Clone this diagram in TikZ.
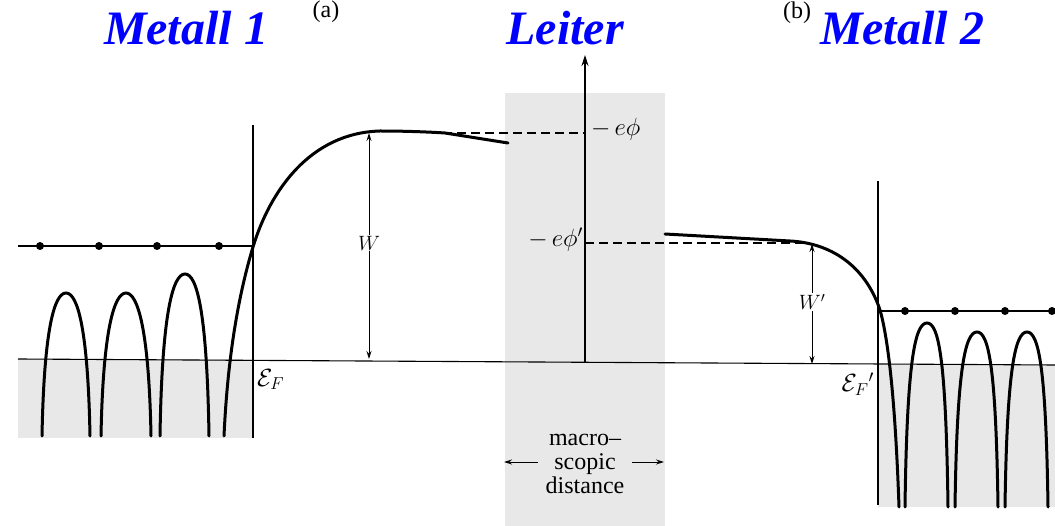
\documentclass[tikz,border=0pt]{standalone}
\usepackage{fontspec}
\setmainfont{Liberation Serif}
\usetikzlibrary{arrows.meta}
\definecolor{titleblue}{RGB}{0,0,255}
\definecolor{bandgray}{RGB}{232,232,232}
\newcommand\myarch[5]{%
  \draw[thickcurve] (#1,#5) .. controls ({#1+2},{#4+38}) and ({#3-12},#4) .. (#3,#4)
    .. controls ({#3+12},#4) and ({#2-2},{#4+38}) .. (#2,#5);}
\begin{document}
\begin{tikzpicture}[x=1pt,y=-1pt,
  thinline/.style={line width=1.1pt},
  thickcurve/.style={line width=3pt, line cap=round},
  dashline/.style={line width=1.1pt, dash pattern=on 9pt off 5pt},
  electron/.style={circle, fill=black, inner sep=0pt, minimum size=8pt},
  titletext/.style={font=\fontsize{48}{50}\selectfont\bfseries\itshape, text=titleblue, inner sep=0pt, anchor=base},
  smalltext/.style={font=\fontsize{24}{26}\selectfont, inner sep=0pt},
  lab/.style={font=\fontsize{22}{24}\selectfont, inner sep=1pt},
  biglab/.style={font=\fontsize{26}{28}\selectfont, inner sep=1pt},
  dimarrow/.style={line width=1pt, -{Stealth[length=8pt,width=5pt]}}]
\useasboundingbox (0,0) rectangle (1055,526);

% shaded regions
\fill[bandgray] (505,93) rectangle (665,526);
\fill[bandgray] (18,359) rectangle (253,438);
\fill[bandgray] (878,365) rectangle (1055,507);

% titles
\node[titletext] (m1) at (186,45) {Metall 1};
\node[titletext] (lt) at (565,45) {Leiter};
\node[titletext] (m2) at (902,45) {Metall 2};
\node[smalltext, anchor=north] (pa) at (326,1) {(a)};
\node[smalltext, anchor=north] (pb) at (797,2) {(b)};

% base line and walls
\draw[thinline] (18,359) -- (1055,365);
\draw[thinline] (253,125) -- (253,438);
\draw[thinline] (878,181) -- (878,505);

% axis
\coordinate (ax0) at (585,362);
\coordinate (ax1) at (585,55);
\draw[thinline, -{Stealth[length=11pt,width=7pt]}] (ax0) -- (ax1);

% electron levels
\draw[thinline] (18,246) -- (253,246);
\foreach \x/\n in {40/a,99/b,157/c,219/d} \node[electron] (e1\n) at (\x,246) {};
\draw[thinline] (878,311) -- (1055,311);
\foreach \x/\n in {905/a,955/b,1005/c,1052/d} \node[electron] (e2\n) at (\x,311) {};

% arches metal 1
\myarch{42}{90}{66}{293}{436}
\myarch{101}{151}{126}{293}{436}
\myarch{160}{209}{185}{274}{436}
% arches metal 2
\myarch{905}{948}{927}{323}{507}
\myarch{955}{998}{977}{332}{507}
\myarch{1005}{1048}{1027}{332}{507}

% surface potential metal 1
\draw[thickcurve] (224,436) .. controls (228,350) and (240,290) .. (253,247)
  .. controls (270,191) and (310,133) .. (380,131)
  .. controls (405,131) and (430,132) .. (445,133) -- (508,143);
% surface potential metal 2
\draw[thickcurve] (665,234) -- (790,241) .. controls (830,243) and (865,265) .. (880,310)
  .. controls (890,345) and (896,420) .. (899,507);

% dashed levels
\draw[dashline] (443,133) -- (585,133);
\draw[dashline] (585,243) -- (805,243);
\node[biglab, anchor=west] (ephi) at (590,129) {$-\,e\phi$};
\node[biglab, anchor=east] (ephip) at (584,240) {$-\,e\phi'$};

% W arrows
\node[lab, fill=white] (w) at (369,243) {$W$};
\coordinate (wt) at (369,133);
\coordinate (wb) at (369,359);
\draw[dimarrow] (w) -- (wt);
\draw[dimarrow] (w) -- (wb);
\node[lab, fill=white] (wp) at (812,302) {$W'$};
\coordinate (wpt) at (812,244);
\coordinate (wpb) at (812,364);
\draw[dimarrow] (wp) -- (wpt);
\draw[dimarrow] (wp) -- (wpb);

% Fermi labels
\node[biglab, anchor=north west] (ef) at (256,368) {$\mathcal{E}_F$};
\node[biglab, anchor=north east] (efp) at (875,372) {$\mathcal{E}_F{}'$};

% macroscopic distance
\node[font=\fontsize{24}{26}\selectfont, align=center, inner sep=0pt] (md) at (585,464)
  {macro--\\[-2pt]scopic\\[-2pt]distance};
\coordinate (ml) at (504,462);
\coordinate (mr) at (664,462);
\coordinate (mls) at (538,462);
\coordinate (mrs) at (632,462);
\draw[dimarrow] (mls) -- (ml);
\draw[dimarrow] (mrs) -- (mr);
\end{tikzpicture}
\end{document}
